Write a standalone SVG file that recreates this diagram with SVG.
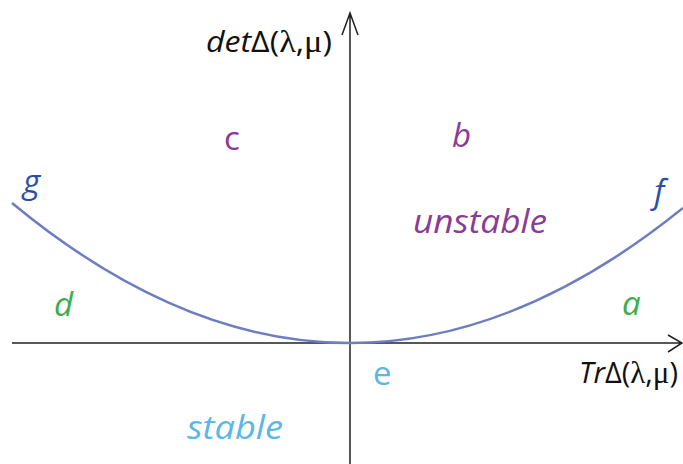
<svg xmlns="http://www.w3.org/2000/svg" width="683" height="464" viewBox="0 0 683 464">
<style>
.lbl{font-family:"Open Sans","Noto Sans",sans-serif;font-style:italic;font-size:33px}
.up{font-style:normal}
.ax{font-family:"Open Sans","Noto Sans",sans-serif;font-size:29px;fill:#111}
.sym{font-family:"Liberation Serif","DejaVu Serif",serif;font-style:normal;font-size:31px}
.axis{stroke:#222;stroke-width:1.5;fill:none}
.curve{stroke:#6D7DC2;stroke-width:2.5;fill:none}
.purple{fill:#8A3B9A}.green{fill:#3BAE4A}.lblue{fill:#5BB7E8}.dblue{fill:#2B4FA8}
</style>
<rect width="683" height="464" fill="#fff"/>
<g id="connectors">
<path class="axis" d="M350,464 V14 M342,35 L350,13 L358,35"/>
<path class="axis" d="M12,343 H682 M668,335 L682,343 L668,352"/>
<path class="curve" d="M12,203 Q181,343 350,343 Q516,343 683,208"/>
</g>
<g id="ylabel"><text class="ax" x="206" y="52" textLength="126" lengthAdjust="spacingAndGlyphs"><tspan style="font-style:italic">det</tspan><tspan>Δ(</tspan><tspan class="sym">λ</tspan><tspan>,</tspan><tspan class="sym">μ</tspan><tspan>)</tspan></text></g>
<g id="xlabel"><text class="ax" x="579" y="383" textLength="99" lengthAdjust="spacingAndGlyphs"><tspan style="font-style:italic">Tr</tspan><tspan>Δ(</tspan><tspan class="sym">λ</tspan><tspan>,</tspan><tspan class="sym">μ</tspan><tspan>)</tspan></text></g>
<g id="c"><text class="lbl up purple" x="224" y="150">c</text></g>
<g id="b"><text class="lbl purple" x="452" y="147">b</text></g>
<g id="unstable"><text class="lbl purple" x="413" y="233" textLength="134" lengthAdjust="spacingAndGlyphs">unstable</text></g>
<g id="g"><text class="lbl dblue" x="23" y="193">g</text></g>
<g id="f"><text class="lbl dblue" x="654" y="203">f</text></g>
<g id="d"><text class="lbl green" x="54" y="316">d</text></g>
<g id="a"><text class="lbl green" x="622" y="315">a</text></g>
<g id="e"><text class="lbl up lblue" x="373" y="385">e</text></g>
<g id="stable"><text class="lbl lblue" x="187" y="439" textLength="96" lengthAdjust="spacingAndGlyphs">stable</text></g>
</svg>
